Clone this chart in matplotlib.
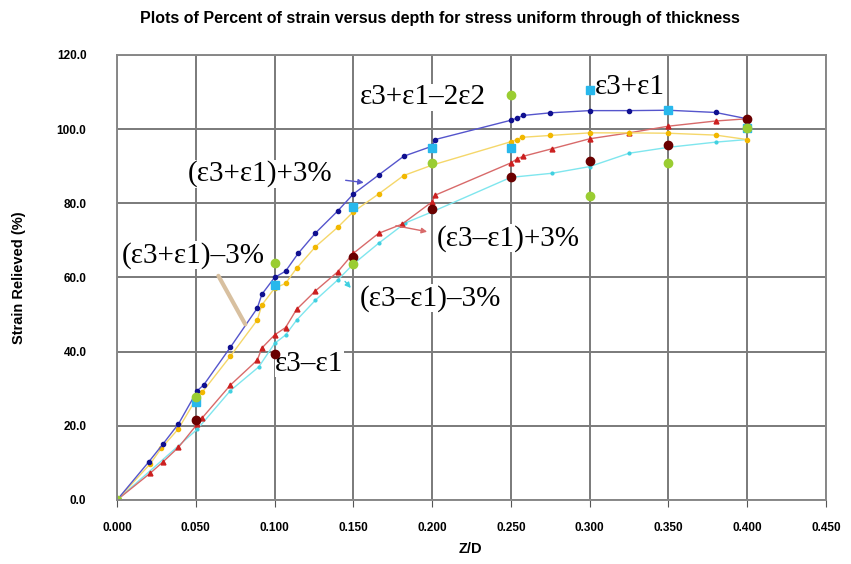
import matplotlib.pyplot as plt

# series drawn as lines (Z/D, strain relieved %)
blue_x = [0, 0.020, 0.029, 0.039, 0.051, 0.055, 0.072, 0.089, 0.092, 0.100, 0.107, 0.115, 0.126,
          0.140, 0.150, 0.166, 0.182, 0.200, 0.202, 0.250, 0.254, 0.258, 0.275, 0.300, 0.325,
          0.350, 0.380, 0.400]
blue_y = [0, 10.2, 15.0, 20.5, 29.5, 31.0, 41.2, 51.7, 55.5, 60.0, 61.7, 66.5, 72.0,
          77.9, 82.5, 87.6, 92.7, 95.4, 97.2, 102.4, 103.0, 103.7, 104.4, 105.0, 105.0,
          105.1, 104.5, 102.8]

yel_x = [0, 0.021, 0.028, 0.039, 0.051, 0.054, 0.072, 0.089, 0.092, 0.100, 0.107, 0.114, 0.126,
         0.140, 0.150, 0.166, 0.182, 0.200, 0.250, 0.254, 0.257, 0.275, 0.300, 0.325, 0.350,
         0.380, 0.400]
yel_y = [0, 9.7, 13.9, 19.2, 27.8, 29.0, 38.8, 48.5, 52.6, 57.1, 58.4, 62.5, 68.3,
         73.5, 77.7, 82.5, 87.5, 90.3, 96.6, 97.2, 97.8, 98.3, 99.0, 99.0, 98.9,
         98.4, 97.2]

red_x = [0, 0.021, 0.029, 0.039, 0.051, 0.054, 0.072, 0.089, 0.092, 0.100, 0.107, 0.114, 0.126,
         0.140, 0.150, 0.166, 0.181, 0.200, 0.202, 0.250, 0.254, 0.258, 0.276, 0.300, 0.325,
         0.350, 0.380, 0.400]
red_y = [0, 7.2, 10.2, 14.2, 20.5, 22.1, 31.0, 37.7, 41.0, 44.5, 46.5, 51.4, 56.4,
         61.5, 66.5, 71.9, 74.4, 80.4, 82.2, 90.9, 92.0, 92.7, 94.7, 97.4, 99.0,
         100.8, 102.2, 102.8]

cyan_x = [0, 0.051, 0.072, 0.090, 0.100, 0.107, 0.114, 0.126, 0.140, 0.150, 0.166, 0.183,
          0.200, 0.250, 0.276, 0.300, 0.325, 0.350, 0.380, 0.400]
cyan_y = [0, 19.1, 29.5, 35.9, 42.2, 44.5, 48.5, 53.9, 59.3, 63.6, 69.2, 74.7,
          77.7, 87.0, 88.1, 89.9, 93.5, 95.1, 96.5, 97.2]

# measured points
pts_x = [0.05, 0.10, 0.15, 0.20, 0.25, 0.30, 0.35, 0.40]
e3_minus_e1 = [21.7, 39.4, 65.4, 78.6, 87.1, 91.5, 95.8, 102.8]
e3_plus_e1 = [26.3, 58.0, 79.1, 94.8, 94.8, 110.5, 105.3, 100.2]
g_x = [0, 0.05, 0.10, 0.15, 0.20, 0.25, 0.30, 0.35, 0.40]
e_2e2 = [0, 27.7, 64.0, 63.6, 90.9, 109.2, 81.9, 91.0, 100.2]

xticks = [0, 0.05, 0.10, 0.15, 0.20, 0.25, 0.30, 0.35, 0.40, 0.45]
yticks = [0, 20, 40, 60, 80, 100, 120]

fig = plt.figure(figsize=(8.51, 5.64), dpi=100)
ax = fig.add_axes([0.1375, 0.1135, 0.833, 0.789])

ax.plot(cyan_x, cyan_y, color='#7fe6ee', lw=1, marker='o', ms=2, mfc='#40d0e0', mec='#40d0e0')
ax.plot(red_x, red_y, color='#d86a6a', lw=1, marker='^', ms=3.5, mfc='#cc2020', mec='#cc2020')
ax.plot(yel_x, yel_y, color='#f5d76a', lw=1, marker='o', ms=3, mfc='#f2b800', mec='#f2b800')
ax.plot(blue_x, blue_y, color='#5555cc', lw=1, marker='o', ms=3, mfc='#101090', mec='#101090')

ax.plot(pts_x, e3_minus_e1, ls='none', marker='o', ms=6, color='#6a0000')
ax.plot(pts_x, e3_plus_e1, ls='none', marker='s', ms=6, color='#28b8ec')
ax.plot(g_x, e_2e2, ls='none', marker='o', ms=6, color='#9acd32')

ax.set_xlim(0, 0.45)
ax.set_ylim(0, 120)
ax.set_xticks(xticks)
ax.set_yticks(yticks)
ax.set_xticklabels([f'{v:.3f}' for v in xticks], fontweight='bold', fontsize=8.5, family='Liberation Sans')
ax.set_yticklabels([f'{v:.1f}' for v in yticks], fontweight='bold', fontsize=8.5, family='Liberation Sans')
ax.tick_params(axis='x', direction='out', length=5, color='#555555', pad=11)
ax.tick_params(axis='y', length=0, pad=22)
ax.grid(True, color='#7a7a7a', lw=1.4)
ax.set_axisbelow(True)
for s in ax.spines.values():
    s.set_color('#888888')
    s.set_linewidth(1.4)

fig.text(0.553, 0.027, 'Z/D', ha='center', va='center', fontweight='bold', fontsize=10.5,
         family='Liberation Sans')
ax.set_ylabel('Strain Relieved (%)', fontweight='bold', fontsize=10.5, family='Liberation Sans', labelpad=22)
fig.text(0.517, 0.968, 'Plots of Percent of strain versus depth for stress uniform through of thickness',
         ha='center', va='center', fontweight='bold', fontsize=11.5, family='Liberation Sans')

lab = dict(fontsize=21, family='Liberation Serif', va='center', ha='left', color='black', zorder=1.5,
           bbox=dict(facecolor='white', edgecolor='none', pad=0.5))
ax.text(0.045, 87.9, '(ε3+ε1)+3%', **lab)
ax.text(0.0032, 66.0, '(ε3+ε1)–3%', **lab)
ax.text(0.1542, 108.6, 'ε3+ε1–2ε2', **lab)
ax.text(0.3033, 111.3, 'ε3+ε1', **lab)
ax.text(0.203, 70.6, '(ε3–ε1)+3%', **lab)
ax.text(0.1542, 54.4, '(ε3–ε1)–3%', **lab)
ax.text(0.1005, 36.7, 'ε3–ε1', **lab)

ax.annotate('', xy=(0.1584, 85.5), xytext=(0.1434, 86.3),
            arrowprops=dict(arrowstyle='-|>', color='#5555cc', lw=1, mutation_scale=8))
ax.annotate('', xy=(0.1986, 72.2), xytext=(0.1753, 74.1),
            arrowprops=dict(arrowstyle='-|>', color='#d86a6a', lw=1, mutation_scale=8))
ax.annotate('', xy=(0.1496, 56.6), xytext=(0.1436, 59.5),
            arrowprops=dict(arrowstyle='-|>', color='#40d0e0', lw=1, mutation_scale=8))
ax.annotate('', xy=(0.0823, 46.7), xytext=(0.0635, 61.1),
            arrowprops=dict(arrowstyle='-', color='#d8c0a0', lw=3))

fig.savefig('out.png', dpi=100)
